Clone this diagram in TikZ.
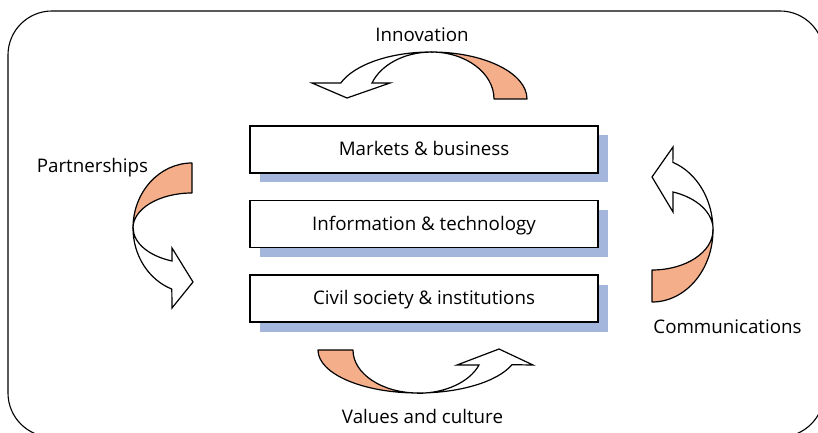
\documentclass[tikz,border=0pt]{standalone}
\usepackage{fontspec}
\setmainfont{Open Sans}
\usepackage{tikz}
\usetikzlibrary{positioning,shadows}
\usepackage{xcolor}

\definecolor{loopfill}{RGB}{245,174,138}
\definecolor{shadowblue}{RGB}{164,182,220}

\tikzset{
  layer/.style={draw, line width=1.6bp, fill=white, minimum width=348bp,
    minimum height=47bp, inner sep=0pt, text height=12bp, text depth=0pt,
    font=\fontsize{18.8}{22}\selectfont,
    general shadow={shadow xshift=9.5bp, shadow yshift=-9.5bp, fill=shadowblue}},
  looplabel/.style={anchor=base, inner sep=0pt, font=\fontsize{18.8}{22}\selectfont},
  backband/.style={draw, fill=loopfill, line width=1.2bp, line join=round},
  frontband/.style={draw, fill=white, line width=1.2bp, line join=miter}
}

\begin{document}
\begin{tikzpicture}[x=1bp, y=-1bp]
\useasboundingbox (0,0) rectangle (818,433);

% frame, runs off the page on the right and at the bottom
\begin{scope}
\clip (0,0) rectangle (818,433);
\draw[line width=1.1bp, rounded corners=44bp] (8,11) rectangle (824,437);
\end{scope}

% the three layers
\node[layer] (mb) at (424,149.5) {Markets \& business};
\node[layer, below=26bp of mb] (it) {Information \& technology};
\node[layer, below=26bp of it] (cs) {Civil society \& institutions};

% innovation loop (top)
\draw[backband] (527,99) arc[start angle=0, end angle=-90, x radius=96, y radius=47]
  arc[start angle=-90, end angle=0, x radius=63, y radius=47] -- cycle;
\draw[frontband] (431,52) arc[start angle=-90, end angle=-160, x radius=96, y radius=47]
  -- (312,83) -- (347,98) -- (390,83) -- (372,83)
  arc[start angle=-160, end angle=-90, x radius=63, y radius=47] -- cycle;

% partnerships loop (left)
\draw[backband] (192,163) arc[start angle=-90, end angle=-180, x radius=59, y radius=65]
  arc[start angle=180, end angle=270, x radius=59, y radius=35] -- cycle;
\draw[frontband] (133,228) arc[start angle=180, end angle=110, x radius=59, y radius=65]
  -- (172,308) -- (193,282) -- (172,248) -- (172,261)
  arc[start angle=110, end angle=180, x radius=59, y radius=35] -- cycle;

% communications loop (right)
\draw[backband] (652,302) arc[start angle=90, end angle=0, x radius=61, y radius=72]
  arc[start angle=0, end angle=90, x radius=61, y radius=40] -- cycle;
\draw[frontband] (713,230) arc[start angle=0, end angle=-70, x radius=61, y radius=72]
  -- (673,147) -- (652,177) -- (673,212) -- (673,192)
  arc[start angle=-70, end angle=0, x radius=61, y radius=40] -- cycle;

% values loop (bottom)
\draw[backband] (318,350) arc[start angle=180, end angle=90, x radius=100, y radius=43]
  arc[start angle=90, end angle=180, x radius=65, y radius=43] -- cycle;
\draw[frontband] (418,393) arc[start angle=90, end angle=20, x radius=100, y radius=43]
  -- (533,365) -- (499,349) -- (457,365) -- (479,365)
  arc[start angle=20, end angle=90, x radius=65, y radius=43] -- cycle;

% labels
\node[looplabel] (inno) at (422,42) {Innovation};
\node[looplabel] (part) at (92.5,173) {Partnerships};
\node[looplabel] (comm) at (727.5,334) {Communications};
\node[looplabel] (vals) at (422.5,423) {Values and culture};
\end{tikzpicture}
\end{document}
